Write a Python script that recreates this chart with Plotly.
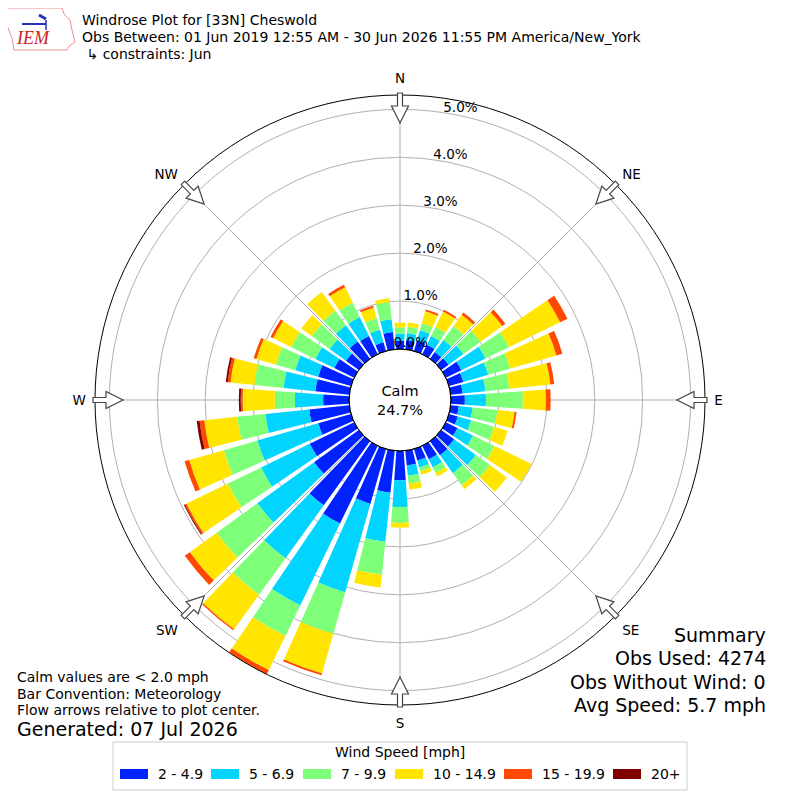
import numpy as np
import plotly.graph_objects as go

# wind direction bins (degrees, direction wind blows from)
directions = [0, 10, 20, 30, 40, 50, 60, 70, 80, 90, 100, 110,
              120, 130, 140, 150, 160, 170, 180, 190, 200, 210, 220, 230,
              240, 250, 260, 270, 280, 290, 300, 310, 320, 330, 340, 350]

speed_bins = ["2 - 4.9", "5 - 6.9", "7 - 9.9", "10 - 14.9", "15 - 19.9", "20+"]
bin_colors = ["#0022ff", "#00d4ff", "#7dff7a", "#ffe500", "#ff4800", "#800000"]

# frequency [%] per direction for each speed bin
pct_2_5 = [0.17, 0.19, 0.23, 0.22, 0.17, 0.19, 0.36, 0.31, 0.25, 0.29, 0.17, 0.19,
           0.27, 0.33, 0.36, 0.31, 0.25, 0.31, 0.61, 0.88, 1.19, 1.80, 1.65, 1.15,
           1.03, 0.71, 0.84, 0.54, 0.71, 0.71, 0.46, 0.33, 0.44, 0.42, 0.19, 0.36]
pct_5_7 = [0.15, 0.15, 0.22, 0.20, 0.31, 0.38, 0.56, 0.54, 0.48, 0.44, 0.29, 0.29,
           0.36, 0.56, 0.46, 0.19, 0.15, 0.21, 0.56, 1.03, 1.92, 1.90, 1.36, 1.46,
           1.13, 1.32, 0.92, 0.59, 0.67, 0.50, 0.44, 0.42, 0.42, 0.44, 0.27, 0.27]
pct_7_10 = [0.13, 0.13, 0.15, 0.21, 0.36, 0.44, 0.54, 0.48, 0.50, 0.77, 0.52, 0.50,
            0.50, 0.36, 0.31, 0.13, 0.08, 0.17, 0.33, 0.69, 0.90, 0.71, 0.94, 1.05,
            0.77, 0.73, 0.59, 0.42, 0.61, 0.42, 0.56, 0.46, 0.38, 0.33, 0.25, 0.36]
pct_10_15 = [0.10, 0.09, 0.26, 0.36, 0.29, 0.56, 1.19, 1.00, 0.86, 0.48, 0.36, 0.29,
             0.86, 0.44, 0.10, 0.08, 0.08, 0.13, 0.10, 0.27, 0.86, 0.79, 0.89, 0.69,
             0.96, 0.75, 0.69, 0.67, 0.50, 0.42, 0.42, 0.27, 0.48, 0.36, 0.23, 0.08]
pct_15_20 = [0.00, 0.00, 0.04, 0.04, 0.06, 0.08, 0.17, 0.13, 0.08, 0.10, 0.04, 0.00,
             0.00, 0.00, 0.00, 0.00, 0.00, 0.00, 0.00, 0.00, 0.04, 0.10, 0.03, 0.13,
             0.04, 0.10, 0.10, 0.04, 0.06, 0.06, 0.06, 0.00, 0.00, 0.06, 0.04, 0.00]
pct_20_up = [0.00, 0.00, 0.00, 0.00, 0.00, 0.00, 0.00, 0.00, 0.00, 0.00, 0.00, 0.00,
             0.00, 0.00, 0.00, 0.00, 0.00, 0.00, 0.00, 0.00, 0.00, 0.00, 0.00, 0.00,
             0.02, 0.00, 0.06, 0.04, 0.04, 0.00, 0.00, 0.00, 0.00, 0.00, 0.00, 0.00]

series = [pct_2_5, pct_5_7, pct_7_10, pct_10_15, pct_15_20, pct_20_up]

compass_angles = [0, 45, 90, 135, 180, 225, 270, 315]
compass_labels = ["N", "NE", "E", "SE", "S", "SW", "W", "NW"]
radial_ticks = [0, 1, 2, 3, 4, 5]

calm_pct = 24.7
title_lines = ["Windrose Plot for [33N] Cheswold",
               "Obs Between: 01 Jun 2019 12:55 AM - 30 Jun 2026 11:55 PM America/New_York",
               " \u21b3 constraints: Jun"]
note_lines = ["Calm values are &lt; 2.0 mph", "Bar Convention: Meteorology",
              "Flow arrows relative to plot center."]
generated = "Generated: 07 Jul 2026"
summary_lines = ["Summary", "Obs Used: 4274", "Obs Without Wind: 0", "Avg Speed: 5.7 mph"]

W = H = 800
OFF = 8                    # the page body margin shifts the figure by this much
CX, CY = 400, 400          # centre of the rose (page pixels)
R_OUT, R_HOLE = 305, 51
FONT = "DejaVu Sans"
legend_x = [120, 211, 303, 395, 504, 613]


def px(x):
    return (x - OFF) / W


def py(y):
    return 1 - (y - OFF) / H


def ann(x, y, text, size, anchor="center", color="black", family=FONT):
    return dict(x=px(x), y=py(y), xref="paper", yref="paper", text=text, showarrow=False,
                xanchor=anchor, yanchor="middle", font=dict(size=size, color=color, family=family))


totals = np.sum(np.array(series), axis=0)
rmax = float(totals.max())

fig = go.Figure()
for name, vals, col in zip(speed_bins, series, bin_colors):
    fig.add_trace(go.Barpolar(r=vals, theta=directions, width=8.2, name=name,
                              marker=dict(color=col, line=dict(width=0)),
                              showlegend=False))

# radial percentage labels
fig.add_trace(go.Scatterpolar(r=radial_ticks, theta=[12] * len(radial_ticks), mode="text",
                              text=[f"{v:.1f}%" for v in radial_ticks], textposition="top center",
                              textfont=dict(size=13.5, color="black", family=FONT),
                              cliponaxis=False, showlegend=False, hoverinfo="skip"))

shapes = []
annotations = []

# calm circle
shapes.append(dict(type="circle", xref="paper", yref="paper",
                   x0=px(CX - R_HOLE), x1=px(CX + R_HOLE),
                   y0=py(CY + R_HOLE), y1=py(CY - R_HOLE),
                   line=dict(color="black", width=1), fillcolor="rgba(0,0,0,0)", layer="above"))
annotations.append(ann(CX, CY, f"Calm<br>{calm_pct:.1f}%", 14.5))

# flow arrows on the compass points
for a in compass_angles:
    t = np.deg2rad(a)
    u = np.array([np.sin(t), -np.cos(t)])
    v = np.array([np.cos(t), np.sin(t)])
    outline = [(307, -2.5), (294, -2.5), (294, -8.5), (277, 0), (294, 8.5), (294, 2.5), (307, 2.5)]
    pts = [np.array([CX, CY]) + r * u + w * v for r, w in outline]
    path = "M " + " L ".join(f"{px(p[0]):.5f} {py(p[1]):.5f}" for p in pts) + " Z"
    shapes.append(dict(type="path", path=path, xref="paper", yref="paper",
                       fillcolor="white", line=dict(color="#444444", width=1.2), layer="above"))

# title block
for i, line in enumerate(title_lines):
    annotations.append(ann(80, 20 + 17 * i, line, 14, anchor="left"))

# IEM logo
logo = [(6, 8), (62, 8), (64, 14), (70, 20), (72, 30), (75, 42), (69, 46), (67, 50),
        (14, 50), (12, 38), (8, 28), (5, 16)]
shapes.append(dict(type="path", xref="paper", yref="paper",
                   path="M " + " L ".join(f"{px(x):.5f} {py(y):.5f}" for x, y in logo) + " Z",
                   line=dict(color="#e89090", width=1), fillcolor="white"))
shapes.append(dict(type="line", xref="paper", yref="paper", x0=px(22), x1=px(46),
                   y0=py(24), y1=py(24), line=dict(color="#2233bb", width=2)))
shapes.append(dict(type="line", xref="paper", yref="paper", x0=px(39), x1=px(46),
                   y0=py(15), y1=py(19), line=dict(color="#2233bb", width=3)))
shapes.append(dict(type="line", xref="paper", yref="paper", x0=px(46), x1=px(46),
                   y0=py(20), y1=py(30), line=dict(color="#2233bb", width=1.5)))
annotations.append(ann(33, 38, "<i>IEM</i>", 18, color="#cc2222", family="Liberation Serif"))

# notes bottom left
for i, line in enumerate(note_lines):
    annotations.append(ann(15, 677 + 16.5 * i, line, 14, anchor="left"))
annotations.append(ann(15, 729, generated, 19, anchor="left"))

# summary bottom right
for i, line in enumerate(summary_lines):
    annotations.append(ann(768, 635 + 23.3 * i, line, 19, anchor="right"))

# legend box built by hand (wide colour swatches)
shapes.append(dict(type="rect", xref="paper", yref="paper", x0=px(113), x1=px(687),
                   y0=py(790), y1=py(742), line=dict(color="#cccccc", width=1), fillcolor="white"))
annotations.append(ann(400, 752, "Wind Speed [mph]", 14))
for x0, name, col in zip(legend_x, speed_bins, bin_colors):
    shapes.append(dict(type="rect", xref="paper", yref="paper", x0=px(x0), x1=px(x0 + 28),
                       y0=py(779), y1=py(769), line=dict(width=0), fillcolor=col))
    annotations.append(ann(x0 + 36, 774, name, 14, anchor="left"))

fig.update_layout(
    width=W, height=H,
    margin=dict(l=0, r=0, t=0, b=0),
    paper_bgcolor="white",
    font=dict(family=FONT, size=13, color="black"),
    polar=dict(
        domain=dict(x=[px(CX - R_OUT), px(CX + R_OUT)], y=[py(CY + R_OUT), py(CY - R_OUT)]),
        hole=R_HOLE / R_OUT,
        bgcolor="white",
        barmode="stack",
        angularaxis=dict(rotation=90, direction="clockwise", tickmode="array",
                         tickvals=compass_angles, ticktext=compass_labels,
                         showgrid=True, gridcolor="#b0b0b0", gridwidth=1,
                         linecolor="black", linewidth=1, showline=True,
                         ticks="outside", ticklen=6, tickcolor="rgba(0,0,0,0)",
                         tickfont=dict(size=13.5), layer="above traces"),
        radialaxis=dict(range=[0, rmax], tickmode="array", tickvals=radial_ticks,
                        showticklabels=False, showline=False, ticks="",
                        gridcolor="#b0b0b0", gridwidth=1, layer="above traces"),
    ),
    shapes=shapes,
    annotations=annotations,
)

fig.write_html("out.html")
